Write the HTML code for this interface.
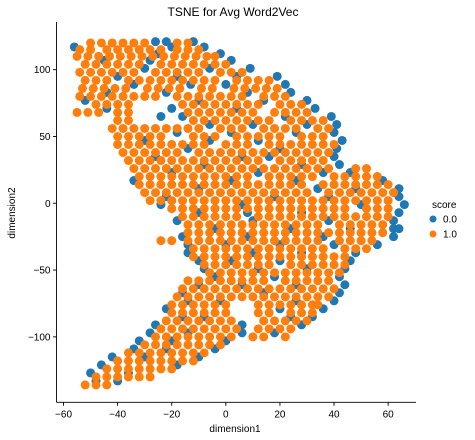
<!DOCTYPE html>
<html><head><meta charset="utf-8"><style>
body{margin:0;background:#fff;}
svg{display:block;font-family:"Liberation Sans","DejaVu Sans",sans-serif;}
</style></head><body>
<svg id="chart" width="475" height="440" viewBox="0 0 475 440" xmlns="http://www.w3.org/2000/svg">
<text x="233" y="16" font-size="12" text-anchor="middle" fill="#000">TSNE for Avg Word2Vec</text>
<g id="points"></g>
<g id="axes"></g>
<text x="235" y="432" font-size="10" text-anchor="middle" fill="#000">dimension1</text>
<text x="15" y="213" font-size="10" text-anchor="middle" fill="#000" transform="rotate(-90 15 213)">dimension2</text>
<g>
<text x="432" y="208" font-size="10" fill="#000">score</text>
<circle cx="433" cy="219" r="3.5" fill="#1f77b4"/>
<text x="443" y="222.5" font-size="10" fill="#000">0.0</text>
<circle cx="433" cy="234" r="3.5" fill="#ff7f0e"/>
<text x="443" y="237.5" font-size="10" fill="#000">1.0</text>
</g>
</svg>
<script>
const xTicks = [-60,-40,-20,0,20,40,60];
const yTicks = [-100,-50,0,50,100];
const xDomain = [-62.6,70.3];
const yDomain = [-149,135.7];
// rows: [y, [x values]]
const blueRows = [
[121,[-26,-22,-12]],[117,[-56,-20,-8]],[112,[-2,-25]],[107,[-28,2,-45]],[101,[9,-6,-30]],[95,[-40,19,-18,4]],[89,[-13,22,-34,0]],[83,[-22,24,8,-44]],[77,[-52,30,-10,14]],[71,[-20,33,-44,4]],[65,[-24,-16,39,22]],[59,[10,41,-6,30]],[53,[-18,40,2,26]],[47,[12,43,-30,-6]],[41,[41,20,-14]],[35,[16,40,-26,6]],[29,[42,-8,28]],[23,[12,36,-20,46]],[17,[-34,2,58,26]],[11,[34,64,-10,48]],[5,[64,18,-22,38]],[-1,[-24,6,50,66]],[-7,[8,64,28,-10]],[-13,[-18,62,38,10]],[-19,[62,64,-4,24,46]],[-25,[-16,62,8,36]],[-31,[-14,56,40,20,0]],[-37,[-14,48,10,28]],[-43,[-10,46,20,2]],[-49,[-8,44,30,12]],[-55,[-4,42,18]],[-61,[-10,44,6,26]],[-67,[-16,42,14]],[-73,[-14,40,-2,26]],[-79,[-22,36,20]],[-85,[-16,32,-8,24]],[-91,[-26,28,6]],[-97,[-28,6,18,-14]],[-103,[-32,0,-20]],[-109,[-34,-4,-22]],[-115,[-42,-10,-30]],[-121,[-46,-18]],[-127,[-50,-36]],[-133,[-40,-48]]
];
const orangeRows = [
[120,[-50,-46,-42,-38,-34,-30,-18,-14]],
[115,[-54,-50,-44,-40,-36,-32,-28,-24,-18,-14,-10]],
[110,[-55,-51,-47,-43,-39,-35,-31,-27,-23,-19,-15,-11,-7,-4]],
[104,[-52,-48,-44,-40,-36,-32,-24,-20,-16,-12,-8,-4,0]],
[98,[-54,-50,-46,-42,-38,-34,-26,-22,-18,-14,-10,-2,2,6]],
[92,[-52,-48,-44,-36,-32,-28,-24,-20,-16,-12,-8,-4,4,8,12,16]],
[86,[-53,-49,-45,-41,-37,-29,-25,-21,-17,-9,-5,3,7,11,15,19]],
[80,[-54,-50,-46,-42,-38,-34,-30,-26,-18,-14,-10,-6,-2,2,6,14,18,22]],
[74,[-48,-44,-40,-36,-16,-12,-8,-4,0,4,8,12,20,24,28]],
[68,[-55,-51,-47,-40,-36,-14,-10,-6,-2,2,6,10,18,22,26,30]],
[62,[-40,-36,-12,-8,-4,0,4,8,12,16,24,28,32,36]],
[56,[-42,-38,-34,-30,-26,-22,-18,-14,-10,-2,2,6,14,18,22,26,34,38]],
[50,[-40,-36,-32,-28,-24,-12,-8,-4,4,8,12,16,20,28,32,36]],
[44,[-40,-36,-32,-28,-24,-20,-16,-12,-8,0,4,8,16,20,24,28,32,36,40]],
[38,[-38,-34,-30,-26,-22,-18,-10,-6,-2,2,6,10,14,18,22,26,30,34,38]],
[32,[-36,-32,-28,-24,-20,-16,-12,-8,-4,0,4,8,12,20,24,28,32,36]],
[26,[-34,-30,-26,-22,-18,-14,-10,-6,-2,2,6,10,14,18,22,26,30,34,38,48,52]],
[20,[-32,-28,-24,-20,-16,-12,-8,-4,0,4,8,16,20,24,28,32,40,44,48,52,56]],
[14,[-32,-28,-24,-20,-16,-12,-8,-4,0,4,8,12,16,20,24,28,36,40,44,48,52,56,60]],
[8,[-30,-26,-22,-18,-14,-10,-6,-2,2,6,10,14,18,22,26,30,38,42,46,50,54,58,62]],
[2,[-28,-24,-20,-16,-12,-8,-4,0,4,8,12,16,20,24,28,32,36,40,44,48,52,56,60]],
[-4,[-20,-16,-12,-8,-4,0,4,8,12,16,20,24,28,32,36,40,44,52,56,60]],
[-10,[-16,-12,-8,-4,0,4,12,16,20,24,28,32,36,40,44,48,52,56,60]],
[-16,[-14,-10,-6,-2,2,6,10,14,18,22,26,30,34,42,46,50,54,58]],
[-22,[-14,-10,-6,-2,2,6,10,14,18,22,26,30,34,38,42,46,50,54,58]],
[-28,[-24,-20,-14,-10,-6,-2,2,6,10,14,18,22,26,30,34,42,46,50,54]],
[-34,[-12,-8,-4,0,4,8,12,16,20,24,28,32,36,44,48,52]],
[-40,[-12,-8,-4,0,4,8,12,16,20,24,28,32,36,40,44]],
[-46,[-8,-4,0,4,8,12,16,24,28,32,36,40,44]],
[-52,[-6,-2,2,6,10,14,18,22,26,30,34,38,42]],
[-58,[-14,-10,-6,-2,2,6,10,14,22,26,30,34,38]],
[-64,[-16,-12,-8,-4,0,4,8,12,16,20,24,28,32,36,40]],
[-70,[-18,-14,-10,-6,-2,2,6,10,14,18,22,26,30,34,38]],
[-76,[-20,-16,-12,-8,-4,0,12,16,20,24,28,32,34]],
[-82,[-20,-16,-12,-8,-4,0,12,16,24,28,32]],
[-88,[-22,-18,-14,-10,-6,-2,2,14,18,22,26,30]],
[-94,[-24,-20,-16,-12,-8,-4,0,4,12,16,20,24]],
[-100,[-26,-22,-18,-14,-10,-6,-2,2,10,14,22]],
[-106,[-30,-26,-22,-18,-14,-10,-6,-2]],
[-112,[-36,-32,-28,-24,-20,-16,-12,-8]],
[-118,[-40,-36,-32,-28,-24,-20,-16,-12]],
[-124,[-44,-40,-36,-32,-28,-24,-20]],
[-130,[-48,-44,-40,-36,-32,-28]],
[-136,[-52,-48,-44]]
];
const NS='http://www.w3.org/2000/svg';
const plotL=56.5, plotR=416, plotT=22, plotB=402.3;
function xScale(v){return plotL+(v-xDomain[0])/(xDomain[1]-xDomain[0])*(plotR-plotL);}
function yScale(v){return plotB-(v-yDomain[0])/(yDomain[1]-yDomain[0])*(plotB-plotT);}
const pts=document.getElementById('points');
function drawRows(rows,color,name){
  rows.forEach(r=>{r[1].forEach(x=>{
    const c=document.createElementNS(NS,'circle');
    c.setAttribute('cx',xScale(x));c.setAttribute('cy',yScale(r[0]));
    c.setAttribute('r',4.5);c.setAttribute('fill',color);
    
    
    pts.appendChild(c);
  });});
}
drawRows(blueRows,'#1f77b4','point-score-0');
drawRows(orangeRows,'#ff7f0e','point-score-1');
const ax=document.getElementById('axes');
function line(x1,y1,x2,y2,name){
  const l=document.createElementNS(NS,'line');
  l.setAttribute('x1',x1);l.setAttribute('y1',y1);l.setAttribute('x2',x2);l.setAttribute('y2',y2);
  l.setAttribute('stroke','#000');l.setAttribute('stroke-width','0.9');
  
  
  ax.appendChild(l);
}
function text(x,y,s,anchor,name){
  const t=document.createElementNS(NS,'text');
  t.setAttribute('x',x);t.setAttribute('y',y);t.setAttribute('font-size','10');
  t.setAttribute('text-anchor',anchor);t.textContent=s;
  
  
  ax.appendChild(t);
}
line(plotL,plotT,plotL,plotB,'y-axis-line');
line(plotL,plotB,plotR,plotB,'x-axis-line');
xTicks.forEach(v=>{const px=xScale(v);line(px,plotB,px,plotB+3.5,'x-tick');text(px,plotB+15,String(v).replace('-','\u2212'),'middle','x-tick-label');});
yTicks.forEach(v=>{const py=yScale(v);line(plotL-3.5,py,plotL,py,'y-tick');text(plotL-6,py+3.5,String(v).replace('-','\u2212'),'end','y-tick-label');});
</script>
</body></html>
